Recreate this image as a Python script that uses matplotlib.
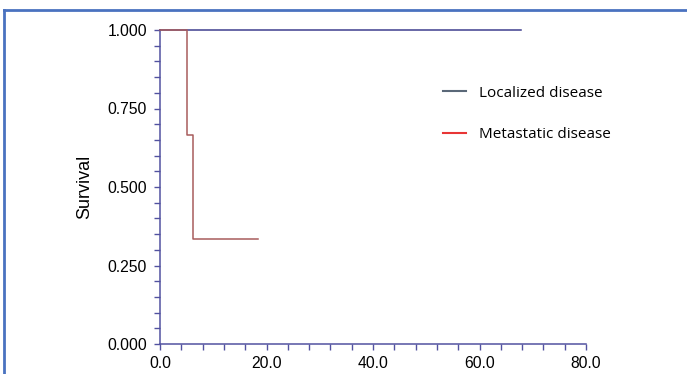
import matplotlib
matplotlib.use("Agg")
import matplotlib.pyplot as plt
from matplotlib.lines import Line2D
from matplotlib.ticker import MultipleLocator, FormatStrFormatter

# Data
local_time = [0.0, 67.8]
local_surv = [1.0, 1.0]
meta_time = [0.0, 5.0, 6.2, 18.4]
meta_surv = [1.0, 0.667, 0.333, 0.333]
legend_labels = ["Localized disease", "Metastatic disease"]
x_ticks = [0, 20, 40, 60, 80]
y_ticks = [0.0, 0.25, 0.5, 0.75, 1.0]

W, H = 687, 374
fig = plt.figure(figsize=(W / 100, H / 100), dpi=100)
fig.patch.set_facecolor("white")

ax = fig.add_axes([160 / W, 1 - 344 / H, (586 - 160) / W, (344 - 30) / H])
axis_col = "#5252a0"
ax.step(local_time, local_surv, where="post", color="#3e3e8e", lw=1.1, clip_on=False, zorder=3)
ax.step(meta_time, meta_surv, where="post", color="#a85c5c", lw=1.1, clip_on=False, zorder=4)

ax.set_xlim(0, 80)
ax.set_ylim(0, 1)
for s in ["top", "right"]:
    ax.spines[s].set_visible(False)
for s in ["left", "bottom"]:
    ax.spines[s].set_color(axis_col)
    ax.spines[s].set_linewidth(1.1)

ax.set_xticks(x_ticks)
ax.set_yticks(y_ticks)
ax.xaxis.set_minor_locator(MultipleLocator(4))
ax.yaxis.set_minor_locator(MultipleLocator(0.05))
ax.xaxis.set_major_formatter(FormatStrFormatter("%.1f"))
ax.yaxis.set_major_formatter(FormatStrFormatter("%.3f"))
ax.tick_params(which="both", direction="out", length=4.3, width=1.0, color=axis_col,
               labelsize=11.3, pad=5)
ax.tick_params(axis="x", pad=4)
for lab in ax.get_xticklabels() + ax.get_yticklabels():
    lab.set_fontfamily("Liberation Sans")
ax.set_ylabel("Survival", fontsize=13, family="Liberation Sans", labelpad=10)

handles = [Line2D([], [], color="#5a6878", lw=1.5),
           Line2D([], [], color="#e83535", lw=1.5)]
fig.legend(handles, legend_labels, loc="upper left",
           bbox_to_anchor=(429 / W, 1 - 72 / H), frameon=False,
           prop={"family": "Open Sans", "size": 11},
           handlelength=1.55, handletextpad=0.85, labelspacing=1.75)

# figure border lines (top and left)
bc = "#4a72c0"
fig.add_artist(Line2D([4 / W, 1], [1 - 10 / H, 1 - 10 / H], color=bc, lw=2, transform=fig.transFigure))
fig.add_artist(Line2D([4 / W, 4 / W], [0, 1 - 10 / H], color=bc, lw=2, transform=fig.transFigure))

fig.savefig("out.png", dpi=100)
